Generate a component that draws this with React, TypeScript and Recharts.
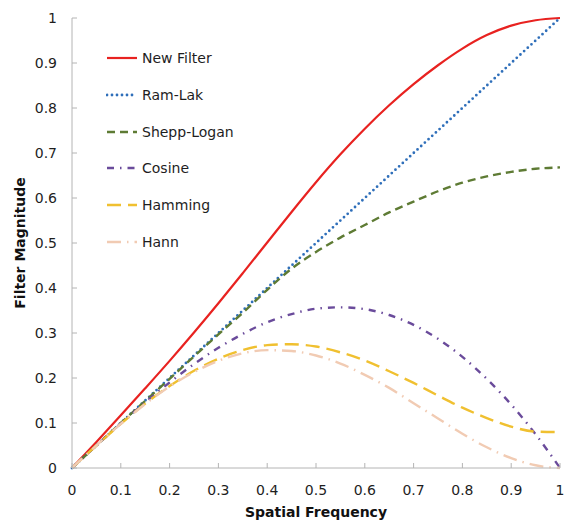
import { LineChart, Line, XAxis, YAxis, Legend, Label } from "recharts";

// spatial frequency samples (x)
const freq = [
	0, 0.05, 0.1, 0.15, 0.2, 0.25, 0.3, 0.35, 0.4, 0.45, 0.5, 0.55, 0.6, 0.65, 0.7,
	0.75, 0.8, 0.85, 0.9, 0.95, 1,
];

// filter magnitudes
const newFilter = [
	0, 0.058, 0.117, 0.177, 0.238, 0.301, 0.366, 0.433, 0.501, 0.569, 0.635, 0.697,
	0.754, 0.806, 0.853, 0.895, 0.932, 0.962, 0.983, 0.995, 1,
];
const ramLak = [
	0, 0.05, 0.1, 0.15, 0.2, 0.25, 0.3, 0.35, 0.4, 0.45, 0.5, 0.55, 0.6, 0.65, 0.7,
	0.75, 0.8, 0.85, 0.9, 0.95, 1,
];
const sheppLogan = [
	0, 0.05, 0.1, 0.149, 0.198, 0.248, 0.297, 0.345, 0.396, 0.443, 0.48, 0.512,
	0.54, 0.568, 0.592, 0.615, 0.634, 0.648, 0.658, 0.665, 0.668,
];
const cosine = [
	0, 0.05, 0.099, 0.146, 0.19, 0.231, 0.267, 0.298, 0.324, 0.342, 0.354, 0.357,
	0.353, 0.34, 0.318, 0.287, 0.247, 0.198, 0.141, 0.075, 0,
];
const hamming = [
	0, 0.05, 0.098, 0.143, 0.182, 0.216, 0.243, 0.262, 0.273, 0.275, 0.27, 0.257,
	0.239, 0.215, 0.189, 0.161, 0.134, 0.111, 0.092, 0.081, 0.08,
];
const hann = [
	0, 0.05, 0.098, 0.142, 0.181, 0.213, 0.238, 0.255, 0.262, 0.26, 0.25, 0.232,
	0.207, 0.178, 0.144, 0.11, 0.076, 0.046, 0.022, 0.006, 0,
];

const ticks = [0, 0.1, 0.2, 0.3, 0.4, 0.5, 0.6, 0.7, 0.8, 0.9, 1];

type Series = {
	key: string;
	name: string;
	values: number[];
	color: string;
	dash?: string;
	cap: "butt" | "round";
	width: number;
	curve: "monotone" | "linear";
};

const series: Series[] = [
	{ key: "newFilter", name: "New Filter", values: newFilter, color: "#e82220", cap: "butt", width: 2.2, curve: "monotone" },
	{ key: "ramLak", name: "Ram-Lak", values: ramLak, color: "#2f6fba", dash: "0 5", cap: "round", width: 2.8, curve: "linear" },
	{ key: "sheppLogan", name: "Shepp-Logan", values: sheppLogan, color: "#5e7b34", dash: "8 5", cap: "butt", width: 2.4, curve: "monotone" },
	{ key: "cosine", name: "Cosine", values: cosine, color: "#6a4b9b", dash: "7 6 1.5 6", cap: "butt", width: 2.4, curve: "monotone" },
	{ key: "hamming", name: "Hamming", values: hamming, color: "#f0c030", dash: "14 7", cap: "butt", width: 2.4, curve: "monotone" },
	{ key: "hann", name: "Hann", values: hann, color: "#f1cbb3", dash: "14 6 1.5 6", cap: "butt", width: 2.4, curve: "monotone" },
];

const rows = freq.map((f, i) => {
	const r: Record<string, number> = { freq: f };
	series.forEach((s) => {
		r[s.key] = s.values[i];
	});
	return r;
});

const FONT = "'DejaVu Sans', Verdana, sans-serif";
const AXIS = "#b4b4b4";
const tickStyle = { fill: "#1e1e1e", fontSize: 14, fontFamily: FONT };
const fmt = (v: number) => String(Math.round(v * 10) / 10);

function LegendBox() {
	return (
		<div style={{ fontFamily: FONT, fontSize: 14, color: "#1e1e1e" }}>
			{series.map((s) => (
				<div
					key={s.key}
					style={{ display: "flex", alignItems: "center", height: 36.7 }}
				>
					<svg width={32} height={12} style={{ display: "block" }}>
						<line
							x1={1}
							x2={31}
							y1={6}
							y2={6}
							stroke={s.color}
							strokeWidth={s.width}
							strokeDasharray={s.dash}
							strokeLinecap={s.cap}
						/>
					</svg>
					<span style={{ marginLeft: 4 }}>{s.name}</span>
				</div>
			))}
		</div>
	);
}

export default function App() {
	return (
		<div style={{ width: 566, height: 521, background: "#fff" }}>
			<style>{"body{margin:0}"}</style>
			<LineChart
				width={566}
				height={521}
				data={rows}
				margin={{ top: 18, right: 6, bottom: 0, left: 0 }}
			>
				<XAxis
					dataKey="freq"
					type="number"
					domain={[0, 1]}
					ticks={ticks}
					tickFormatter={fmt}
					height={53}
					tickSize={-5}
					tickMargin={22}
					stroke={AXIS}
					tick={tickStyle}
				>
					<Label
						value="Spatial Frequency"
						position="insideBottom"
						offset={4}
						style={{ fontFamily: FONT, fontSize: 14, fontWeight: "bold", fill: "#111" }}
					/>
				</XAxis>
				<XAxis
					xAxisId="top"
					orientation="top"
					dataKey="freq"
					type="number"
					domain={[0, 1]}
					ticks={ticks}
					height={0}
					tickSize={-5}
					stroke={AXIS}
					tick={false}
				/>
				<YAxis
					type="number"
					domain={[0, 1]}
					ticks={ticks}
					tickFormatter={fmt}
					width={72}
					tickSize={-5}
					tickMargin={20}
					stroke={AXIS}
					tick={tickStyle}
				>
					<Label
						value="Filter Magnitude"
						angle={-90}
						position="insideLeft"
						offset={20}
						style={{ fontFamily: FONT, fontSize: 14, fontWeight: "bold", fill: "#111", textAnchor: "middle" }}
					/>
				</YAxis>
				<YAxis
					yAxisId="right"
					orientation="right"
					type="number"
					domain={[0, 1]}
					ticks={ticks}
					width={0}
					tickSize={-5}
					stroke={AXIS}
					tick={false}
				/>
				<Legend
					layout="vertical"
					align="center"
					verticalAlign="middle"
					content={() => <LegendBox />}
					wrapperStyle={{ left: 106, top: 40, width: 160 }}
				/>
				{series.map((s) => (
					<Line
						key={s.key}
						dataKey={s.key}
						name={s.name}
						type={s.curve}
						stroke={s.color}
						strokeWidth={s.width}
						strokeDasharray={s.dash}
						strokeLinecap={s.cap}
						dot={false}
						activeDot={false}
						isAnimationActive={false}
					/>
				))}
			</LineChart>
		</div>
	);
}
